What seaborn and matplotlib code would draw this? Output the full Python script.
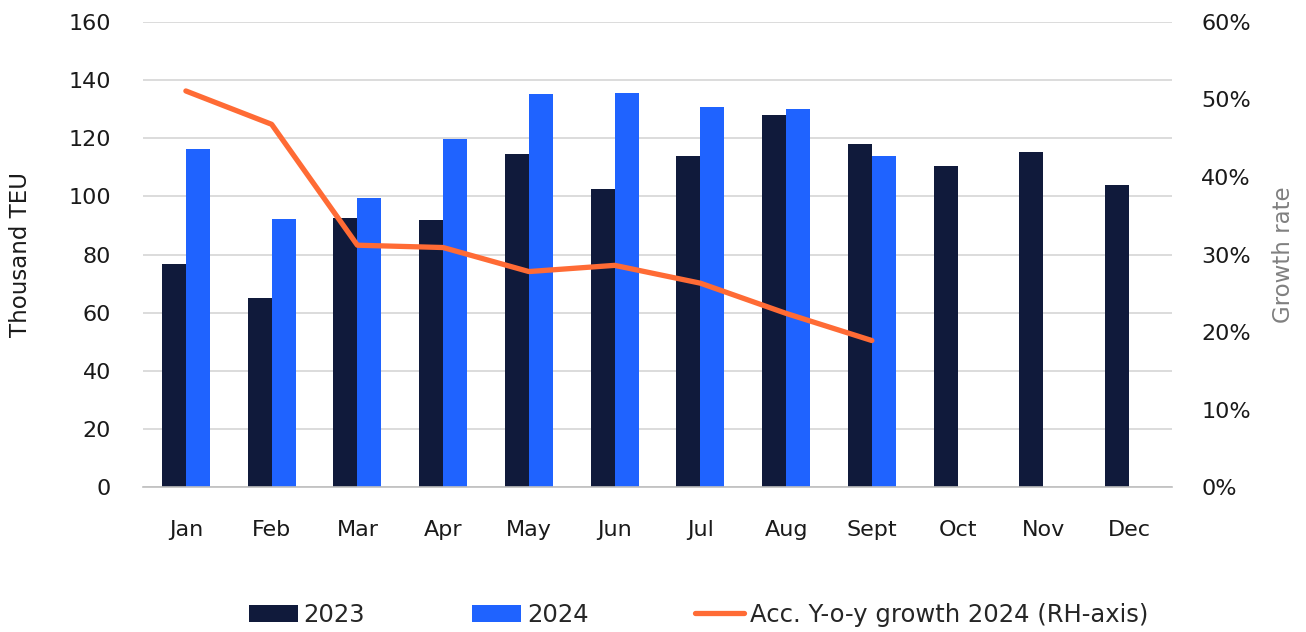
import numpy as np
import pandas as pd
import seaborn as sns
import matplotlib.pyplot as plt
from matplotlib.ticker import FuncFormatter, MultipleLocator

# data
months = ['Jan', 'Feb', 'Mar', 'Apr', 'May', 'Jun', 'Jul', 'Aug', 'Sept', 'Oct', 'Nov', 'Dec']
teu_2023 = [76.7, 65.1, 92.7, 91.8, 114.5, 102.6, 113.8, 128.0, 118.1, 110.5, 115.4, 103.8]
teu_2024 = [116.4, 92.3, 99.6, 119.8, 135.2, 135.7, 130.9, 130.0, 114.0]
growth_2024 = [0.511, 0.468, 0.312, 0.309, 0.278, 0.286, 0.263, 0.224, 0.189]

navy = '#101A3B'
blue = '#1F63FF'
orange = '#FF6B35'

sns.set_theme(style='white')
plt.rcParams['font.family'] = ['DejaVu Sans']

rows = []
for m, v in zip(months, teu_2023):
    rows.append({'month': m, 'year': '2023', 'teu': v})
for m, v in zip(months, teu_2024):
    rows.append({'month': m, 'year': '2024', 'teu': v})
df = pd.DataFrame(rows)

fig = plt.figure(figsize=(13.06, 6.32), dpi=100)
ax = fig.add_axes([0.1095, 0.2294, 0.7879, 0.7358])

sns.barplot(data=df, x='month', y='teu', hue='year', order=months,
            palette={'2023': navy, '2024': blue}, width=0.56, gap=0,
            linewidth=0, saturation=1, ax=ax)

ax.set_ylim(0, 160)
ax.set_xlim(-0.5, len(months) - 0.5)
ax.yaxis.set_major_locator(MultipleLocator(20))
ax.grid(axis='y', color='#d9d9d9', linewidth=1.3)
ax.set_axisbelow(True)
for s in ['top', 'left', 'right']:
    ax.spines[s].set_visible(False)
ax.spines['bottom'].set_color('#bfbfbf')
ax.spines['bottom'].set_linewidth(1.2)

ax.tick_params(axis='x', length=0, pad=24, labelsize=16, labelcolor='#1a1a1a')
ax.set_xticks(np.arange(len(months) + 1) - 0.5, minor=True)
ax.tick_params(axis='x', which='minor', length=8, width=1.2, color='#bfbfbf', direction='out')
ax.tick_params(axis='y', length=0, pad=23, labelsize=16, labelcolor='#1a1a1a')
ax.set_xlabel('')
ax.set_ylabel('Thousand TEU', fontsize=16.5, color='#1a1a1a', labelpad=26)

ax2 = ax.twinx()
x_line = np.arange(len(growth_2024))
sns.lineplot(x=x_line, y=growth_2024, color=orange, linewidth=3.8, ax=ax2,
             label='Acc. Y-o-y growth 2024 (RH-axis)')
ax2.set_ylim(0, 0.6)
ax2.set_xlim(-0.5, len(months) - 0.5)
ax2.yaxis.set_major_locator(MultipleLocator(0.1))
ax2.yaxis.set_major_formatter(FuncFormatter(lambda v, p: f'{v*100:.0f}%'))
ax2.tick_params(axis='y', length=0, pad=21, labelsize=16, labelcolor='#1a1a1a')
ax2.set_ylabel('Growth rate', fontsize=16.5, color='#808080', labelpad=15)
for s in ['top', 'left', 'right', 'bottom']:
    ax2.spines[s].set_visible(False)
ax2.grid(False)

h1, l1 = ax.get_legend_handles_labels()
h2, l2 = ax2.get_legend_handles_labels()
ax.get_legend().remove()
ax2.get_legend().remove()
fig.legend(h1 + h2, l1 + l2, loc='center', bbox_to_anchor=(0.535, 0.027), ncol=3,
           frameon=False, fontsize=17.5, handlelength=2.0, handleheight=0.75,
           handletextpad=0.25, columnspacing=4.4)

fig.savefig('out.png', dpi=100)
